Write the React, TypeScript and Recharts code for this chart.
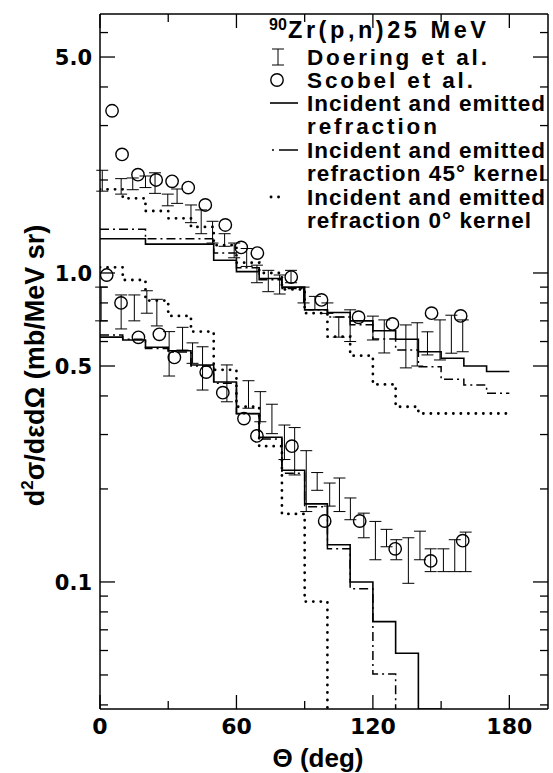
import React from 'react';
import { ComposedChart, Line, Scatter, ErrorBar, XAxis, YAxis, Legend, Label } from 'recharts';

const Y_MIN = 0.0388;
const Y_MAX = 6.89;
const X_MAX = 197;

const xTicks = [0, 30, 60, 90, 120, 150, 180];
const xLabeled = [0, 60, 120, 180];
const yTicks = [6, 5, 4, 3, 2, 1, 0.9, 0.8, 0.7, 0.6, 0.5, 0.4, 0.3, 0.2, 0.1, 0.09, 0.08, 0.07, 0.06, 0.05, 0.04];
const yLabeled = [5, 1, 0.5, 0.1];
const yLabelText = ['5.0', '1.0', '0.5', '0.1'];

// left edges of the 10 deg bins of the calculated histograms
const binStarts = [0, 10, 20, 30, 40, 50, 60, 70, 80, 90, 100, 110, 120, 130, 140, 150, 160, 170];

// upper set of calculations
const upperSolid = [1.29, 1.29, 1.24, 1.24, 1.24, 1.1, 1.01, 0.96, 0.9, 0.76, 0.745, 0.7, 0.65, 0.61, 0.556, 0.53, 0.5, 0.48];
const upperDashDot = [1.385, 1.385, 1.29, 1.29, 1.29, 1.16, 1.04, 0.95, 0.89, 0.76, 0.72, 0.68, 0.611, 0.563, 0.497, 0.453, 0.434, 0.408];
const upperDotted = [1.866, 1.745, 1.587, 1.503, 1.41, 1.23, 1.08, 1.0, 0.885, 0.741, 0.622, 0.54, 0.436, 0.369, 0.351, 0.351, 0.351, 0.351];

// lower set of calculations (they run off the bottom of the frame)
const lowerSolid = [0.62, 0.607, 0.575, 0.56, 0.504, 0.444, 0.351, 0.294, 0.23, 0.179, 0.132, 0.1, 0.0744, 0.0588];
const lowerDashDot = [0.63, 0.61, 0.57, 0.555, 0.5, 0.44, 0.35, 0.29, 0.225, 0.175, 0.128, 0.095, 0.0504];
const lowerDotted = [1.043, 0.949, 0.814, 0.726, 0.646, 0.486, 0.369, 0.275, 0.166, 0.0864];

// Doering et al. (error bars only)
const upperDoeringDeg = [1, 9.3, 14.4, 20, 24.2, 29.8, 33.9, 40, 44.5, 49.5, 54.8, 59, 64.5, 69, 74, 79, 84, 89.5, 94.5, 100, 105, 110, 120, 125, 134.5, 139.5, 144, 149.5, 154.5, 159.5];
const upperDoeringLo = [1.84, 1.8, 1.86, 1.89, 1.81, 1.65, 1.68, 1.455, 1.34, 1.25, 1.22, 1.12, 1.05, 0.93, 0.87, 0.855, 0.93, 0.8, 0.76, 0.74, 0.62, 0.6, 0.607, 0.551, 0.493, 0.5, 0.543, 0.523, 0.55, 0.556];
const upperDoeringHi = [2.15, 2.02, 2.03, 2.06, 2.11, 1.8, 1.87, 1.66, 1.6, 1.47, 1.34, 1.25, 1.2, 1.06, 1.02, 0.985, 1.02, 0.9, 0.84, 0.8, 0.72, 0.76, 0.725, 0.705, 0.679, 0.69, 0.645, 0.705, 0.73, 0.705];

const lowerDoeringDeg = [0.5, 9.3, 15.1, 20.6, 25, 30.4, 36.3, 40.7, 45.1, 55.8, 65.3, 70.5, 75.6, 81.1, 85.6, 90.7, 95.5, 101, 105.3, 110.1, 116, 121.1, 126, 130.3, 135.6, 140.7, 145.4, 151, 156, 160.8];
const lowerDoeringLo = [0.7, 0.659, 0.7, 0.741, 0.674, 0.464, 0.563, 0.51, 0.418, 0.383, 0.365, 0.33, 0.302, 0.249, 0.222, 0.169, 0.198, 0.176, 0.169, 0.159, 0.139, 0.118, 0.13, 0.118, 0.099, 0.118, 0.108, 0.108, 0.108, 0.108];
const lowerDoeringHi = [0.9, 0.849, 0.849, 0.876, 0.822, 0.646, 0.667, 0.594, 0.577, 0.504, 0.448, 0.413, 0.376, 0.322, 0.316, 0.266, 0.226, 0.209, 0.217, 0.187, 0.167, 0.157, 0.148, 0.137, 0.139, 0.146, 0.128, 0.128, 0.137, 0.145];

// Scobel et al. (open circles)
const upperScobelDeg = [5.3, 9.7, 16.7, 24.7, 31.7, 38.8, 46.3, 55.1, 62.1, 69.2, 84.1, 97.4, 113.7, 128.6, 145.8, 158.6];
const upperScobel = [3.35, 2.42, 2.08, 2.0, 1.98, 1.89, 1.66, 1.43, 1.21, 1.16, 0.97, 0.818, 0.719, 0.684, 0.741, 0.726];
const lowerScobelDeg = [2.95, 9.25, 16.9, 26.1, 32.7, 46.7, 54, 63.3, 69, 84.4, 98.8, 114.2, 129.8, 145.4, 159.5];
const lowerScobel = [0.985, 0.8, 0.619, 0.633, 0.533, 0.478, 0.41, 0.338, 0.297, 0.275, 0.1575, 0.1575, 0.128, 0.117, 0.136];

type Pt = { x: number; y: number };

// one value per bin; closed at the right edge of the last bin, or dropped
// to the bottom of the frame at the given angles
function histogram(vals: number[], floorAt?: number[]): Pt[] {
  const pts = vals.map((y, i) => ({ x: binStarts[i], y }));
  if (!floorAt) return [...pts, { x: binStarts[vals.length - 1] + 10, y: vals[vals.length - 1] }];
  return [...pts, ...floorAt.map((x) => ({ x, y: Y_MIN }))];
}

function withErrors(deg: number[], lo: number[], hi: number[]) {
  return deg.map((x, i) => {
    const mid = (lo[i] + hi[i]) / 2;
    return { x, y: mid, err: [mid - lo[i], hi[i] - mid] };
  });
}

const points = (deg: number[], vals: number[]) => deg.map((x, i) => ({ x, y: vals[i] }));

const TICK_FONT = '"DejaVu Sans", sans-serif';
const TEXT_FONT = '"Liberation Sans", Arial, sans-serif';
const frame = { stroke: '#000', strokeWidth: 1.5 };

const LeftTick = (p: any) => {
  const i = yLabeled.indexOf(p.payload.value);
  const len = i >= 0 ? 15 : 8;
  return (
    <g>
      <line x1={p.x} x2={p.x + len} y1={p.y} y2={p.y} stroke="#000" strokeWidth={1.3} />
      {i >= 0 && (
        <text x={p.x - 8} y={p.y + 8} textAnchor="end" fontFamily={TICK_FONT} fontWeight={700} fontSize={21} fill="#000">
          {yLabelText[i]}
        </text>
      )}
    </g>
  );
};

const RightTick = (p: any) => {
  const len = yLabeled.includes(p.payload.value) ? 15 : 8;
  return <line x1={p.x} x2={p.x - len} y1={p.y} y2={p.y} stroke="#000" strokeWidth={1.3} />;
};

const BottomTick = (p: any) => {
  const labeled = xLabeled.includes(p.payload.value);
  return (
    <g>
      <line x1={p.x} x2={p.x} y1={p.y} y2={p.y - (labeled ? 14 : 8)} stroke="#000" strokeWidth={1.3} />
      {labeled && (
        <text x={p.x} y={p.y + 25} textAnchor="middle" fontFamily={TICK_FONT} fontWeight={700} fontSize={22} fill="#000">
          {p.payload.value}
        </text>
      )}
    </g>
  );
};

const TopTick = (p: any) => {
  const labeled = xLabeled.includes(p.payload.value);
  return <line x1={p.x} x2={p.x} y1={p.y} y2={p.y + (labeled ? 14 : 8)} stroke="#000" strokeWidth={1.3} />;
};

const YTitle = (p: any) => {
  const vb = p.viewBox;
  const cx = vb.x + 44;
  const cy = vb.y + vb.height / 2 + 4;
  return (
    <text x={cx} y={cy} transform={`rotate(-90 ${cx} ${cy})`} textAnchor="middle" fontFamily={TEXT_FONT} fontWeight={700} fontSize={27} fill="#000">
      d<tspan dy={-11} fontSize={17}>2</tspan>
      <tspan dy={11}>σ/dεdΩ (mb/MeV sr)</tspan>
    </text>
  );
};

const XTitle = (p: any) => {
  const vb = p.viewBox;
  return (
    <text x={vb.x + vb.width / 2 - 6} y={vb.y + 58} textAnchor="middle" fontFamily={TEXT_FONT} fontWeight={700} fontSize={26} fill="#000">
      Θ (deg)
    </text>
  );
};

const Circle = (p: any) => <circle cx={p.cx} cy={p.cy} r={6.2} fill="none" stroke="#000" strokeWidth={1.4} />;
const Hidden = () => <g />;

// legend rows: text, baseline and set width inside the legend box
const legendRows: [string, number, number][] = [
  ['Doering et al.', 51, 180],
  ['Scobel et al.', 74, 166],
  ['Incident and emitted', 97, 238],
  ['refraction', 120, 130],
  ['Incident and emitted', 144, 238],
  ['refraction 45° kernel', 167, 238],
  ['Incident and emitted', 191, 238],
  ['refraction 0° kernel', 214, 224],
];

const LegendBox = () => {
  const t = { fontFamily: TEXT_FONT, fontWeight: 700, fontSize: 22.5, fill: '#000' };
  const tx = 45;
  return (
    <svg width={291} height={225} style={{ display: 'block' }}>
      <text x={7} y={16} {...t} fontSize={16}>90</text>
      <text x={26} y={24} {...t} fontSize={23.5} textLength={198}>Zr(p,n)25 MeV</text>
      <line x1={16} x2={16} y1={35} y2={51} stroke="#000" strokeWidth={1} />
      <line x1={10} x2={22} y1={35} y2={35} stroke="#000" strokeWidth={1} />
      <line x1={10} x2={22} y1={51} y2={51} stroke="#000" strokeWidth={1} />
      <circle cx={15} cy={66} r={6.2} fill="none" stroke="#000" strokeWidth={1.4} />
      <line x1={8} x2={36} y1={89} y2={89} stroke="#000" strokeWidth={1.6} />
      <line x1={10} x2={36} y1={136} y2={136} stroke="#000" strokeWidth={1.5} strokeDasharray="2 5 19 0" />
      <line x1={9} x2={24} y1={183} y2={183} stroke="#000" strokeWidth={2.8} strokeDasharray="0.1 7.4" strokeLinecap="round" />
      {legendRows.map(([s, y, w], i) => (
        <text key={i} x={tx} y={y} {...t} textLength={w}>
          {s}
        </text>
      ))}
    </svg>
  );
};

const solid = { stroke: '#000', strokeWidth: 1.6 };
const dashDot = { stroke: '#000', strokeWidth: 1.5, strokeDasharray: '9 4 2 4' };
const dotted = { stroke: '#000', strokeWidth: 2.8, strokeDasharray: '0.1 7.4', strokeLinecap: 'round' as const };

export default function App() {
  const curves = [
    { key: 'us', data: histogram(upperSolid), style: solid },
    { key: 'ud', data: histogram(upperDashDot), style: dashDot },
    { key: 'uo', data: histogram(upperDotted), style: dotted },
    { key: 'ls', data: histogram(lowerSolid, [140, 150]), style: solid },
    { key: 'ld', data: histogram(lowerDashDot, [130]), style: dashDot },
    { key: 'lo', data: histogram(lowerDotted, [100]), style: dotted },
  ];
  return (
    <div style={{ position: 'absolute', left: 0, top: 0, width: 553, height: 773, background: '#fff' }}>
      <ComposedChart width={553} height={773} margin={{ top: 13, right: 0, bottom: 0, left: 0 }}>
        <XAxis
          type="number"
          dataKey="x"
          domain={[0, X_MAX]}
          allowDataOverflow
          ticks={xTicks}
          interval={0}
          height={64}
          tickSize={0}
          tickMargin={0}
          tickLine={false}
          axisLine={frame}
          tick={(p: any) => <BottomTick {...p} />}
        >
          <Label content={XTitle} />
        </XAxis>
        <XAxis
          xAxisId="top"
          orientation="top"
          type="number"
          dataKey="x"
          domain={[0, X_MAX]}
          allowDataOverflow
          ticks={xTicks}
          interval={0}
          height={1}
          tickSize={0}
          tickMargin={0}
          tickLine={false}
          axisLine={frame}
          tick={(p: any) => <TopTick {...p} />}
        />
        <YAxis
          type="number"
          scale="log"
          domain={[Y_MIN, Y_MAX]}
          allowDataOverflow
          ticks={yTicks}
          interval={0}
          width={100}
          tickSize={0}
          tickMargin={0}
          tickLine={false}
          axisLine={frame}
          tick={(p: any) => <LeftTick {...p} />}
        >
          <Label content={YTitle} />
        </YAxis>
        <YAxis
          yAxisId="right"
          orientation="right"
          type="number"
          scale="log"
          domain={[Y_MIN, Y_MAX]}
          allowDataOverflow
          ticks={yTicks}
          interval={0}
          width={5}
          tickSize={0}
          tickMargin={0}
          tickLine={false}
          axisLine={frame}
          tick={(p: any) => <RightTick {...p} />}
        />
        {curves.map((c) => (
          <Line
            key={c.key}
            data={c.data}
            dataKey="y"
            type="stepAfter"
            dot={false}
            fill="none"
            {...c.style}
            isAnimationActive={false}
          />
        ))}
        <Scatter data={withErrors(upperDoeringDeg, upperDoeringLo, upperDoeringHi)} dataKey="y" shape={Hidden} isAnimationActive={false}>
          <ErrorBar dataKey="err" direction="y" width={6} stroke="#000" strokeWidth={1} isAnimationActive={false} />
        </Scatter>
        <Scatter data={withErrors(lowerDoeringDeg, lowerDoeringLo, lowerDoeringHi)} dataKey="y" shape={Hidden} isAnimationActive={false}>
          <ErrorBar dataKey="err" direction="y" width={6} stroke="#000" strokeWidth={1} isAnimationActive={false} />
        </Scatter>
        <Scatter data={points(upperScobelDeg, upperScobel)} dataKey="y" shape={Circle} isAnimationActive={false} />
        <Scatter data={points(lowerScobelDeg, lowerScobel)} dataKey="y" shape={Circle} isAnimationActive={false} />
        <Legend
          layout="vertical"
          align="center"
          verticalAlign="middle"
          wrapperStyle={{ left: 262, top: 14, width: 291 }}
          content={() => <LegendBox />}
        />
      </ComposedChart>
    </div>
  );
}
